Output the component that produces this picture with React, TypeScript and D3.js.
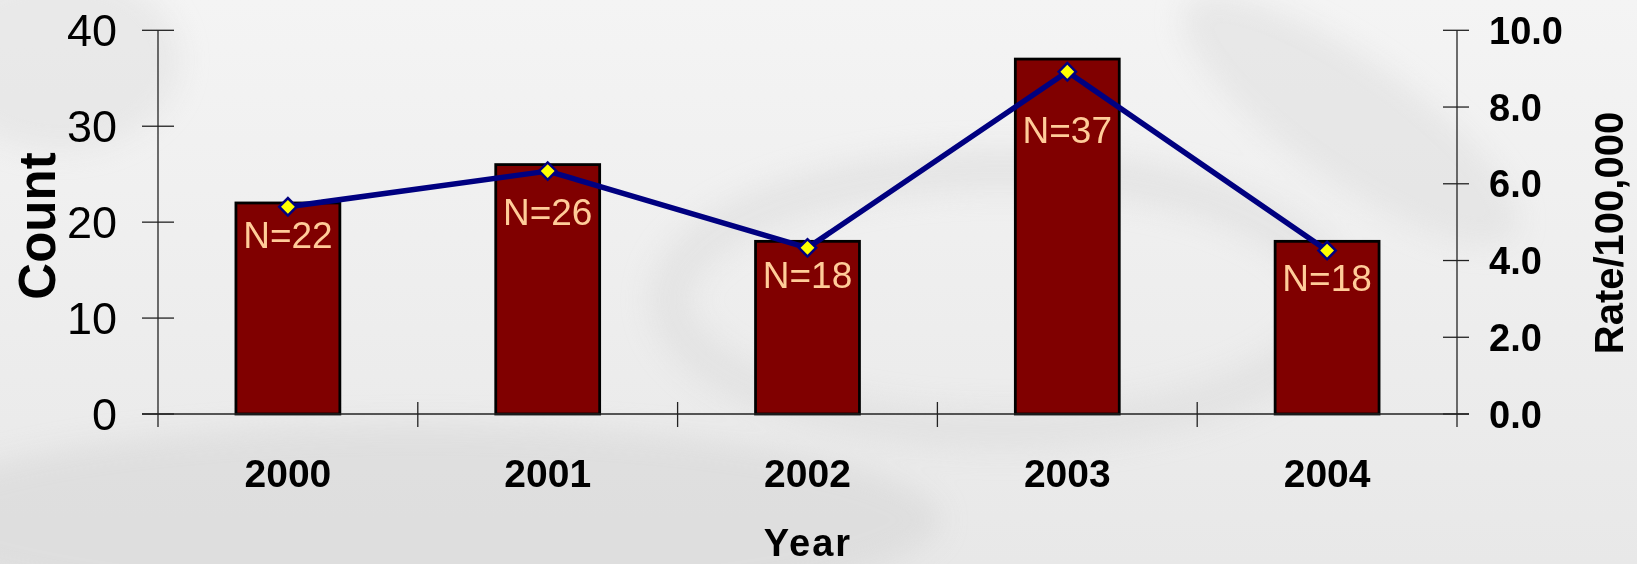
import React from 'react';
import * as d3 from 'd3';

const years = ['2000', '2001', '2002', '2003', '2004'];
const counts = [22, 26, 18, 37, 18];
const rates = [5.4, 6.33, 4.33, 8.92, 4.26];
const countTicks = [0, 10, 20, 30, 40];
const rateTicks = [0, 2, 4, 6, 8, 10];

const W = 1637;
const H = 564;
const FONT = "'Liberation Sans', Arial, Helvetica, sans-serif";

const App = () => {
  const left = 158;
  const right = 1457;
  const top = 30.3;
  const bottom = 414;

  const x = d3.scaleBand<string>()
    .domain(years)
    .range([left, right])
    .paddingInner(0.6)
    .paddingOuter(0.3);
  const yCount = d3.scaleLinear().domain([0, 40]).range([bottom, top]);
  const yRate = d3.scaleLinear().domain([0, 10]).range([bottom, top]);

  const cx = (d: string) => (x(d) ?? 0) + x.bandwidth() / 2;
  const pts: [number, number][] = years.map((d, i) => [cx(d), yRate(rates[i])]);
  const line = d3.line();
  const marker = d3.symbol(d3.symbolSquare, 150)();

  // boundaries between categories
  const bounds = years.slice(0, -1).map(d => cx(d) + x.step() / 2);

  // line height at a given x (keeps the N labels clear of the line)
  const lineAt = (px: number) => {
    if (px <= pts[0][0]) return pts[0][1];
    for (let i = 1; i < pts.length; i++) {
      const [x0, y0] = pts[i - 1];
      const [x1, y1] = pts[i];
      if (px <= x1) return y0 + ((px - x0) / (x1 - x0)) * (y1 - y0);
    }
    return pts[pts.length - 1][1];
  };
  const labelY = (d: string, i: number) => {
    const c = cx(d);
    const span = [c - 46, c, c + 46].map(lineAt);
    return Math.max(yCount(counts[i]) + 45, d3.max(span)! + 40);
  };

  return (
    <svg width={W} height={H} style={{ position: 'absolute', left: 0, top: 0 }} fontFamily={FONT}>
      <defs>
        <linearGradient id="bg" x1="0" y1="0" x2="0" y2="1">
          <stop offset="0" stopColor="#f4f4f4" />
          <stop offset="1" stopColor="#e8e8e8" />
        </linearGradient>
        <filter id="blur" x="-20%" y="-20%" width="140%" height="140%">
          <feGaussianBlur stdDeviation="14" />
        </filter>
      </defs>
      <rect width={W} height={H} fill="url(#bg)" />
      <g filter="url(#blur)" opacity={0.55}>
        <ellipse cx={420} cy={520} rx={520} ry={95} fill="#d6d6d6" />
        <ellipse cx={1000} cy={300} rx={330} ry={130} fill="none" stroke="#dcdcdc" strokeWidth={40} />
        <ellipse cx={1350} cy={120} rx={200} ry={60} fill="#dedede" transform="rotate(35 1350 120)" />
        <ellipse cx={60} cy={60} rx={120} ry={90} fill="#e0e0e0" />
      </g>

      {/* bars */}
      {years.map((d, i) => (
        <rect key={d} x={x(d)} y={yCount(counts[i])} width={x.bandwidth()}
          height={bottom - yCount(counts[i])} fill="#800000" stroke="#000" strokeWidth={2.8} />
      ))}

      {/* axes */}
      <g stroke="#222" strokeWidth={1.3}>
        <line x1={142} x2={1469} y1={bottom} y2={bottom} />
        <line x1={left} x2={left} y1={top} y2={427} />
        <line x1={right} x2={right} y1={top} y2={427} />
        {countTicks.map(t => (
          <line key={'l' + t} x1={142} x2={174} y1={yCount(t)} y2={yCount(t)} />
        ))}
        {rateTicks.map(t => (
          <line key={'r' + t} x1={1443} x2={1469} y1={yRate(t)} y2={yRate(t)} />
        ))}
        {bounds.map((b, i) => (
          <line key={'b' + i} x1={b} x2={b} y1={402} y2={427} />
        ))}
      </g>

      {/* left tick labels */}
      {countTicks.map(t => (
        <text key={'lt' + t} x={117} y={yCount(t) + 16} textAnchor="end" fontSize={45} fill="#000">{t}</text>
      ))}
      {/* right tick labels */}
      {rateTicks.map(t => (
        <text key={'rt' + t} x={1489} y={yRate(t) + 13.5} fontSize={38} fontWeight="bold" fill="#000">{t.toFixed(1)}</text>
      ))}
      {/* category labels */}
      {years.map(d => (
        <text key={'c' + d} x={cx(d)} y={487} textAnchor="middle" fontSize={39} fontWeight="bold" fill="#000">{d}</text>
      ))}

      {/* axis titles */}
      <text transform="translate(55,226) rotate(-90)" textAnchor="middle" fontSize={51} fontWeight="bold">Count</text>
      <text transform="translate(1623,233) rotate(-90)" textAnchor="middle" fontSize={40} fontWeight="bold">Rate/100,000</text>
      <text x={808} y={556} textAnchor="middle" fontSize={38} fontWeight="bold" letterSpacing={2}>Year</text>

      {/* rate line */}
      <path d={line(pts) ?? ''} fill="none" stroke="#000080" strokeWidth={5.5} strokeLinejoin="round" />
      {pts.map((p, i) => (
        <path key={'m' + i} d={marker ?? ''} transform={`translate(${p[0]},${p[1]}) rotate(45)`}
          fill="#ffff00" stroke="#000080" strokeWidth={2.5} />
      ))}

      {/* N labels */}
      {years.map((d, i) => (
        <text key={'n' + d} x={cx(d)} y={labelY(d, i)} textAnchor="middle" fontSize={37} fill="#ffcc99">
          {`N=${counts[i]}`}
        </text>
      ))}
    </svg>
  );
};

export default App;
